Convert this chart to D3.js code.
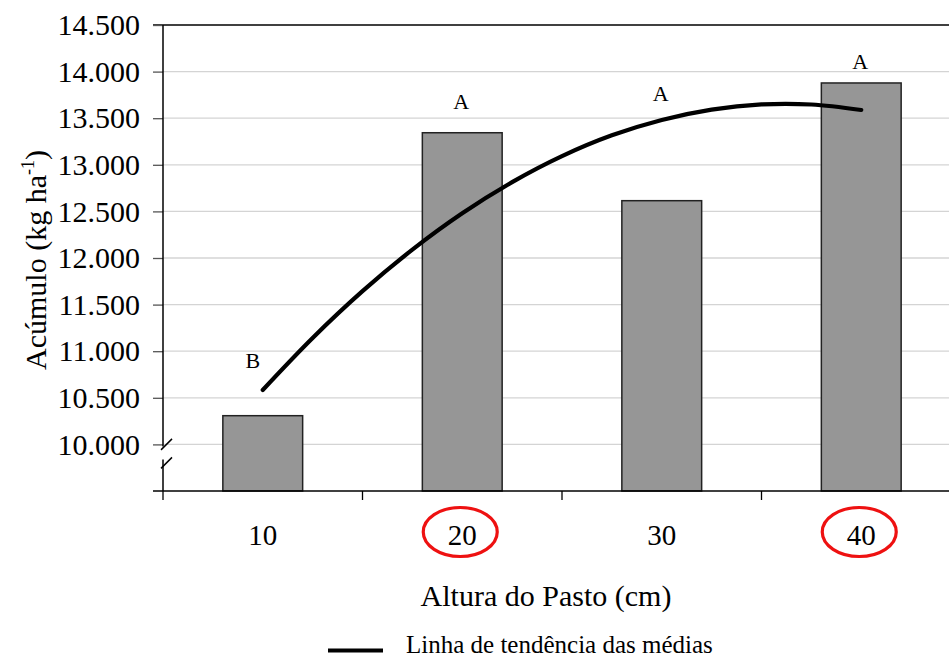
<!DOCTYPE html>
<html><head><meta charset="utf-8">
<script src="https://cdn.jsdelivr.net/npm/d3@7"></script>
<style>body{margin:0;background:#fff}svg{display:block}text{font-family:"Liberation Serif","Times New Roman",serif;fill:#000}</style>
</head><body><svg id="c" width="949" height="659"></svg>
<script>
// ---- data ----
const categories = ["10", "20", "30", "40"];
const means = [10308, 13344, 12615, 13878];
const letters = ["B", "A", "A", "A"];
const letterLevels = [10820, 13599, 13685, 14028];
const highlighted = ["20", "40"];
const trendX = [10, 12.5, 15, 17.5, 20, 22.5, 25, 27.5, 30, 32.5, 35, 37.5, 40];
const trendY = [10584, 11142, 11644, 12090, 12480, 12814, 13093, 13316, 13481, 13592, 13648, 13647, 13588];
const yTicks = [10000, 10500, 11000, 11500, 12000, 12500, 13000, 13500, 14000, 14500];
const yTitle = "Acúmulo (kg ha";
const xTitle = "Altura do Pasto (cm)";
const legendLabel = "Linha de tendência das médias";

// ---- layout ----
const svg = d3.select("#c");
const pL = 163, pR = 961, pT = 25, pB = 491;
const x = d3.scaleBand().domain(categories).range([pL, pR]).paddingInner(0.6).paddingOuter(0.3);
const xs = d3.scalePoint().domain(categories).range([pL, pR]).padding(0.5);
const y = d3.scaleLinear().domain([9500, 14500]).range([pB, pT]);
const xNum = d3.scaleLinear().domain([10, 40]).range([xs("10"), xs("40")]);
const loc = d3.formatLocale({decimal: ",", thousands: ".", grouping: [3], currency: ["", ""]});
const fmt = loc.format(",");

// grid lines
svg.append("g").selectAll("line").data(yTicks.slice(0, -1)).join("line")
  .attr("x1", pL).attr("x2", 949).attr("y1", d => y(d)).attr("y2", d => y(d))
  .attr("stroke", "#d4d4d4").attr("stroke-width", 1.3);
// top border
svg.append("line").attr("x1", 153).attr("x2", 949).attr("y1", y(14500)).attr("y2", y(14500))
  .attr("stroke", "#000").attr("stroke-width", 1.5);

// y axis
const yAxis = d3.axisLeft(y).tickValues(yTicks).tickSize(10).tickPadding(13).tickFormat(fmt);
const gy = svg.append("g").attr("transform", `translate(${pL},0)`).call(yAxis);
gy.select(".domain").remove();
gy.selectAll(".tick line").attr("stroke", "#555").attr("stroke-width", 1.3);
gy.selectAll(".tick text").attr("font-size", 30).attr("font-family", "Liberation Serif").attr("fill", "#000");
// axis line with break
const brk = y(10000);
svg.append("line").attr("x1", pL).attr("x2", pL).attr("y1", pT).attr("y2", brk + 2).attr("stroke", "#000").attr("stroke-width", 1.5);
svg.append("line").attr("x1", pL).attr("x2", pL).attr("y1", brk + 15).attr("y2", pB).attr("stroke", "#000").attr("stroke-width", 1.5);
[brk + 0.5, brk + 19].forEach(cy => {
  svg.append("line").attr("x1", pL - 2).attr("x2", pL + 9).attr("y1", cy + 5).attr("y2", cy - 6)
    .attr("stroke", "#000").attr("stroke-width", 1.5);
});

// bars
svg.append("g").selectAll("rect").data(categories).join("rect")
  .attr("x", d => x(d)).attr("width", x.bandwidth())
  .attr("y", (d, i) => y(means[i])).attr("height", (d, i) => y(9500) - y(means[i]))
  .attr("fill", "#969696").attr("stroke", "#222").attr("stroke-width", 1.5);

// x axis
const xAxisScale = d3.scaleLinear().domain([0, 4]).range([pL, pR]);
svg.append("line").attr("x1", 153).attr("x2", 949).attr("y1", pB).attr("y2", pB).attr("stroke", "#000").attr("stroke-width", 1.5);
svg.append("g").selectAll("line").data([0, 1, 2, 3]).join("line")
  .attr("x1", d => xAxisScale(d)).attr("x2", d => xAxisScale(d)).attr("y1", pB).attr("y2", pB + 9)
  .attr("stroke", "#000").attr("stroke-width", 1.3);
svg.append("g").selectAll("text").data(categories).join("text")
  .attr("x", d => xs(d)).attr("y", 545).attr("text-anchor", "middle").attr("font-size", 29).text(d => d);
// highlight ellipses
svg.append("g").selectAll("ellipse").data(highlighted).join("ellipse")
  .attr("cx", d => xs(d) - 2).attr("cy", 532).attr("rx", 37).attr("ry", 24.5)
  .attr("fill", "none").attr("stroke", "#ee1111").attr("stroke-width", 3.2);

// trend line
const line = d3.line().x((d, i) => xNum(trendX[i])).y(d => y(d)).curve(d3.curveCatmullRom);
svg.append("path").datum(trendY).attr("d", line).attr("fill", "none").attr("stroke", "#000")
  .attr("stroke-width", 4.2).attr("stroke-linecap", "round");

// letters
svg.append("g").selectAll("text").data(letters).join("text")
  .attr("x", (d, i) => xs(categories[i]) + (i === 0 ? -10 : -1)).attr("y", (d, i) => y(letterLevels[i]))
  .attr("text-anchor", "middle").attr("font-size", 22).text(d => d);

// titles
svg.append("text").attr("x", 546).attr("y", 606).attr("text-anchor", "middle").attr("font-size", 30).text(xTitle);
const yt = svg.append("text").attr("transform", `translate(46,${(pT + pB) / 2 + 2}) rotate(-90)`)
  .attr("text-anchor", "middle").attr("font-size", 30);
yt.append("tspan").text(yTitle);
yt.append("tspan").attr("font-size", 18).attr("dy", -12).text("-1");
yt.append("tspan").attr("dy", 12).text(")");

// legend
svg.append("line").attr("x1", 328).attr("x2", 383).attr("y1", 650.5).attr("y2", 650.5).attr("stroke", "#000").attr("stroke-width", 4);
svg.append("text").attr("x", 406).attr("y", 653).attr("font-size", 25).text(legendLabel);
</script></body></html>
